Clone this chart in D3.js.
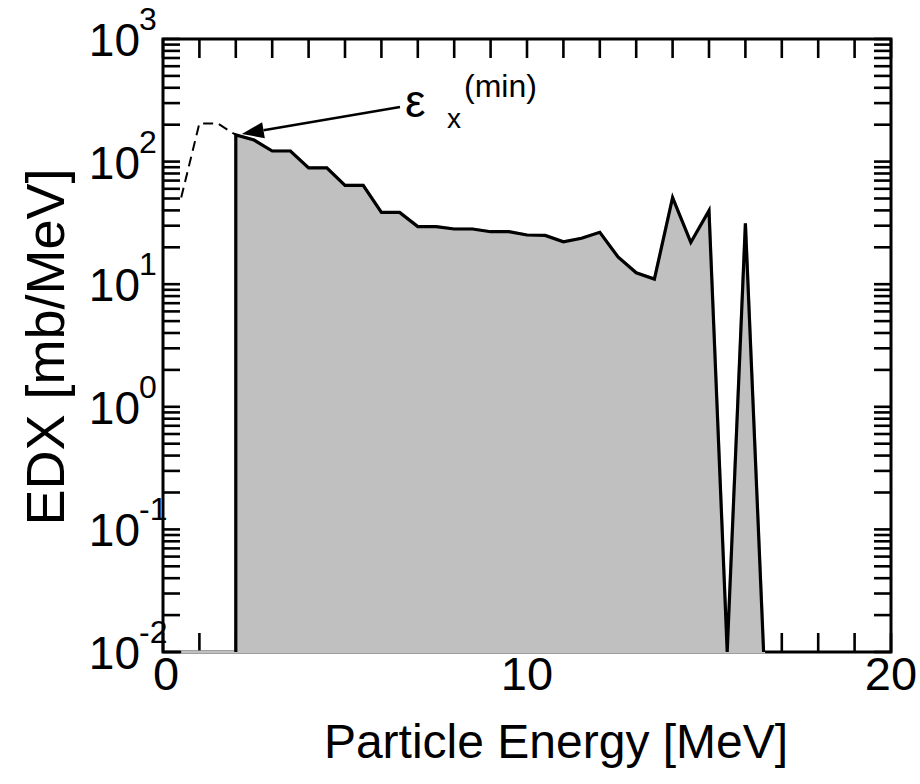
<!DOCTYPE html>
<html>
<head>
<meta charset="utf-8">
<script src="https://cdn.jsdelivr.net/npm/d3@7"></script>
<style>
  html, body { margin: 0; padding: 0; background: #fff; }
  svg { display: block; font-family: Arial, "Liberation Sans", Helvetica, sans-serif; }
</style>
</head>
<body>
<svg id="chart" width="920" height="784"></svg>
<script>
// Low-energy part below the threshold (dashed)
const lowEnergy = [0.5, 1.0, 1.5, 2.0];
const lowEdx    = [51, 205, 205, 165];

// Spectrum above threshold (solid, shaded)
const energy = [2.0, 2.5, 3.0, 3.5, 4.0, 4.5, 5.0, 5.5, 6.0, 6.5, 7.0, 7.5, 8.0, 8.5,
                9.0, 9.5, 10.0, 10.5, 11.0, 11.5, 12.0, 12.5, 13.0, 13.5, 14.0, 14.5,
                15.0, 15.5, 16.0, 16.5];
const edx    = [165, 150, 122, 122, 89, 89, 64, 64, 38.5, 38.5, 29.5, 29.5, 28.2, 28.2,
                26.8, 26.8, 25.2, 25.0, 22.2, 23.7, 26.5, 16.7, 12.4, 11.0, 50.8, 21.9,
                39.8, 0.01, 31.4, 0.01];

const xTickValues = [0, 10, 20];
const yDecades = [-2, -1, 0, 1, 2, 3];
const thresholdLabel = { energy: 2.0, value: 165 };

const svg = d3.select("#chart");
const plotL = 163, plotR = 891, plotT = 39, plotB = 652;

const x = d3.scaleLinear().domain([0, 20]).range([plotL, plotR]);
const y = d3.scaleLog().domain([0.01, 1000]).range([plotB, plotT]);

const ink = "#000";
const g = svg.append("g");

// minor ticks: every MeV on x, 1..9 per decade on y
const xMinor = d3.range(0, 21, 1);
const yMinor = [];
yDecades.slice(0, -1).forEach(d => {
  for (let m = 1; m <= 9; m++) yMinor.push(m * Math.pow(10, d));
});
yMinor.push(1000);

const tickLenX = 19, tickLenY = 17;
const ticks = g.append("g").attr("stroke", ink).attr("stroke-width", 2.6);
xMinor.forEach(v => {
  ticks.append("line").attr("x1", x(v)).attr("x2", x(v)).attr("y1", plotB).attr("y2", plotB - tickLenX);
  ticks.append("line").attr("x1", x(v)).attr("x2", x(v)).attr("y1", plotT).attr("y2", plotT + tickLenX);
});
yMinor.forEach(v => {
  ticks.append("line").attr("x1", plotL).attr("x2", plotL + tickLenY).attr("y1", y(v)).attr("y2", y(v));
  ticks.append("line").attr("x1", plotR).attr("x2", plotR - tickLenY).attr("y1", y(v)).attr("y2", y(v));
});

// frame
g.append("rect")
  .attr("x", plotL).attr("y", plotT)
  .attr("width", plotR - plotL).attr("height", plotB - plotT)
  .attr("fill", "none").attr("stroke", ink).attr("stroke-width", 3);

// shaded area (drawn over the frame bottom)
const fillPts = [[lowEnergy[0], 0.01], [energy[0], 0.01]]
  .concat(energy.map((e, i) => [e, edx[i]]));
g.append("path")
  .attr("d", d3.line().x(d => x(d[0])).y(d => y(d[1]))(fillPts) + "Z")
  .attr("fill", "#c0c0c0")
  .attr("stroke", "#c0c0c0")
  .attr("stroke-width", 3)
  .attr("stroke-linejoin", "miter");

// solid spectrum with vertical edge at threshold
const solidPts = [[energy[0], 0.01]].concat(energy.map((e, i) => [e, edx[i]]));
g.append("path")
  .attr("d", d3.line().x(d => x(d[0])).y(d => y(d[1]))(solidPts))
  .attr("fill", "none").attr("stroke", ink).attr("stroke-width", 3.2)
  .attr("stroke-linejoin", "miter");

// dashed low-energy part
g.append("path")
  .attr("d", d3.line().x((d, i) => x(lowEnergy[i])).y(d => y(d))(lowEdx))
  .attr("fill", "none").attr("stroke", ink).attr("stroke-width", 2)
  .attr("stroke-dasharray", "10,6");

// x tick labels
xTickValues.forEach(v => {
  g.append("text")
    .attr("x", x(v) + (v === 0 ? 3 : 0)).attr("y", plotB + 38)
    .attr("text-anchor", "middle")
    .attr("font-size", 47)
    .text(v);
});

// y tick labels: 10 with exponent
yDecades.forEach(d => {
  const yy = y(Math.pow(10, d));
  g.append("text")
    .attr("x", 140).attr("y", yy + 17)
    .attr("text-anchor", "end")
    .attr("font-size", 46)
    .text("10");
  g.append("text")
    .attr("x", 139).attr("y", yy - 9)
    .attr("font-size", 32)
    .text(d < 0 ? "-" + Math.abs(d) : String(d));
});

// axis titles
g.append("text")
  .attr("x", 556).attr("y", 758)
  .attr("text-anchor", "middle")
  .attr("font-size", 48)
  .text("Particle Energy [MeV]");

g.append("text")
  .attr("transform", `translate(64, 347) rotate(-90)`)
  .attr("text-anchor", "middle")
  .attr("font-size", 54)
  .text("EDX [mb/MeV]");

// threshold annotation with arrow
const tipX = x(thresholdLabel.energy) + 6, tipY = y(thresholdLabel.value) - 1;
const tailX = 400, tailY = 107;
const ang = Math.atan2(tailY - tipY, tailX - tipX);
const headLen = 22, headHalf = 8;
const bx = tipX + headLen * Math.cos(ang), by = tipY + headLen * Math.sin(ang);
g.append("line")
  .attr("x1", bx).attr("y1", by).attr("x2", tailX).attr("y2", tailY)
  .attr("stroke", ink).attr("stroke-width", 2.4);
g.append("path")
  .attr("d", `M${tipX},${tipY} L${bx - headHalf * Math.sin(ang)},${by + headHalf * Math.cos(ang)} L${bx + headHalf * Math.sin(ang)},${by - headHalf * Math.cos(ang)} Z`)
  .attr("fill", ink);

g.append("text").attr("x", 405).attr("y", 117).attr("font-size", 46).text("ε");
g.append("text").attr("x", 447).attr("y", 128).attr("font-size", 28).text("x");
g.append("text").attr("x", 464).attr("y", 97).attr("font-size", 32).text("(min)");
</script>
</body>
</html>
